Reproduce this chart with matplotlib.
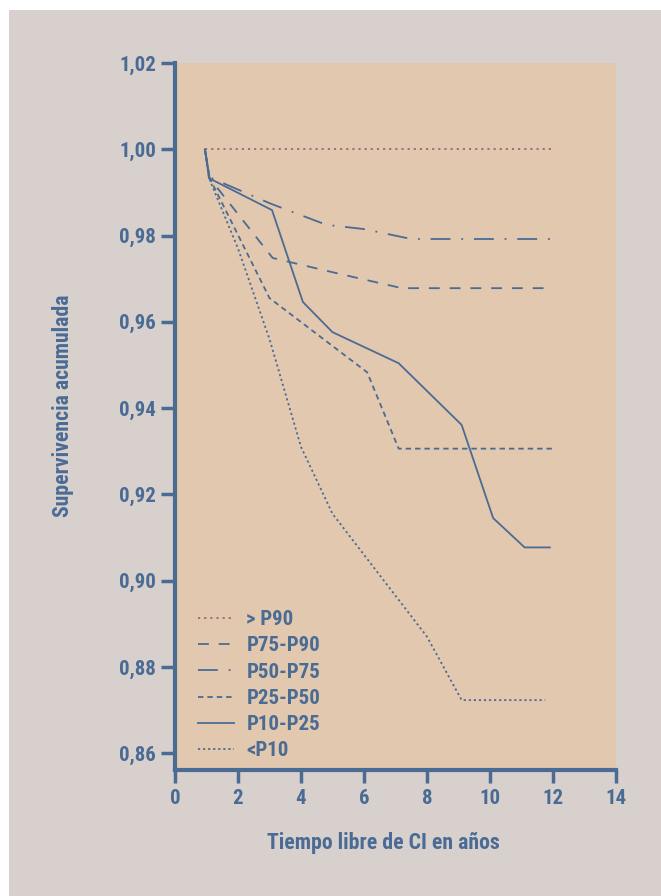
import matplotlib
matplotlib.use("Agg")
import matplotlib.pyplot as plt
from matplotlib.patches import Rectangle
from matplotlib.ticker import FuncFormatter

# ---- data ----
labels = ["> P90", "P75-P90", "P50-P75", "P25-P50", "P10-P25", "<P10"]

x_p90 = [0.95, 12]
y_p90 = [1.000, 1.000]

x_p75_90 = [0.95, 1.1, 3.1, 5.0, 7.2, 12]
y_p75_90 = [1.000, 0.9933, 0.9748, 0.9715, 0.9678, 0.9678]

x_p50_75 = [0.95, 1.1, 3.0, 4.8, 6.0, 7.5, 12]
y_p50_75 = [1.000, 0.9935, 0.9875, 0.9825, 0.9815, 0.9792, 0.9792]

x_p25_50 = [0.95, 1.1, 3.0, 6.1, 7.1, 12]
y_p25_50 = [1.000, 0.9933, 0.9655, 0.9483, 0.9306, 0.9306]

x_p10_25 = [0.95, 1.08, 3.08, 4.06, 5.0, 7.1, 9.1, 10.1, 11.1, 11.9]
y_p10_25 = [1.000, 0.9933, 0.9859, 0.9646, 0.9576, 0.9504, 0.9361, 0.9145, 0.9077, 0.9077]

x_lt10 = [0.95, 1.08, 2.0, 3.0, 4.0, 5.0, 6.0, 7.0, 8.0, 9.1, 11.75]
y_lt10 = [1.000, 0.9933, 0.977, 0.956, 0.931, 0.9155, 0.906, 0.8965, 0.887, 0.8723, 0.8723]

x_ticks = [0, 2, 4, 6, 8, 10, 12, 14]
y_ticks = [0.86, 0.88, 0.90, 0.92, 0.94, 0.96, 0.98, 1.00, 1.02]

xlabel = "Tiempo libre de CI en años"
ylabel = "Supervivencia acumulada"

# ---- style ----
plt.rcParams["font.family"] = ["Roboto Condensed", "Liberation Sans", "DejaVu Sans"]
plt.rcParams["font.weight"] = "heavy"
W = "heavy"

blue = "#4a6b94"
mauve = "#a5607e"
peach = "#e2c8ae"
gray = "#d8d0cd"

fig = plt.figure(figsize=(6.61, 8.96), dpi=100)
fig.patch.set_facecolor("white")
fig.patches.append(Rectangle((9/661, 0), 1, 1 - 10/896, transform=fig.transFigure,
                             facecolor=gray, edgecolor="none", zorder=-10))

ax = fig.add_axes([175/661, 1 - 770/896, (616 - 175)/661, (770 - 63)/896])
ax.set_facecolor(peach)

lw = 1.3
ax.plot(x_p90, y_p90, color=mauve, lw=lw, linestyle=(0, (1.2, 2.2)), label=labels[0])
ax.plot(x_p75_90, y_p75_90, color=blue, lw=lw, linestyle=(0, (6, 5.5)), label=labels[1])
ax.plot(x_p50_75, y_p50_75, color=blue, lw=lw, linestyle=(0, (11, 6, 1, 6)), label=labels[2])
ax.plot(x_p25_50, y_p25_50, color=blue, lw=lw, linestyle=(0, (3, 2.2)), label=labels[3])
ax.plot(x_p10_25, y_p10_25, color=blue, lw=lw, linestyle="-", label=labels[4])
ax.plot(x_lt10, y_lt10, color=blue, lw=lw, linestyle=(0, (1.2, 1.6)), label=labels[5])

ax.set_xlim(0, 14)
ax.set_ylim(0.8561, 1.02)
ax.set_xticks(x_ticks)
ax.set_yticks(y_ticks)
ax.yaxis.set_major_formatter(FuncFormatter(lambda v, p: f"{v:.2f}".replace(".", ",")))
ax.xaxis.set_major_formatter(FuncFormatter(lambda v, p: f"{int(v)}"))

for s in ["top", "right"]:
    ax.spines[s].set_visible(False)
for s in ["left", "bottom"]:
    ax.spines[s].set_color(blue)
    ax.spines[s].set_linewidth(3)

ax.tick_params(axis="both", colors=blue, labelcolor=blue, width=2.5, labelsize=15)
ax.tick_params(axis="y", length=10, pad=3.5)
ax.tick_params(axis="x", length=9, pad=5)
for t in ax.get_xticklabels() + ax.get_yticklabels():
    t.set_fontweight(W)

fig.text(63/661, 1 - 406/896, ylabel, rotation=90, ha="center", va="center",
         color=blue, fontsize=15.7, fontweight=W)
fig.text(383/661, 1 - 843/896, xlabel, ha="center", va="center",
         color=blue, fontsize=15.7, fontweight=W)

leg = ax.legend(loc="lower left", bbox_to_anchor=(0.010, -0.013), frameon=False,
                handlelength=1.72, handletextpad=0.6, labelspacing=0.35,
                prop={"weight": W, "size": 15})
for t in leg.get_texts():
    t.set_color(blue)

fig.savefig("out.png", dpi=100, facecolor=fig.get_facecolor())
